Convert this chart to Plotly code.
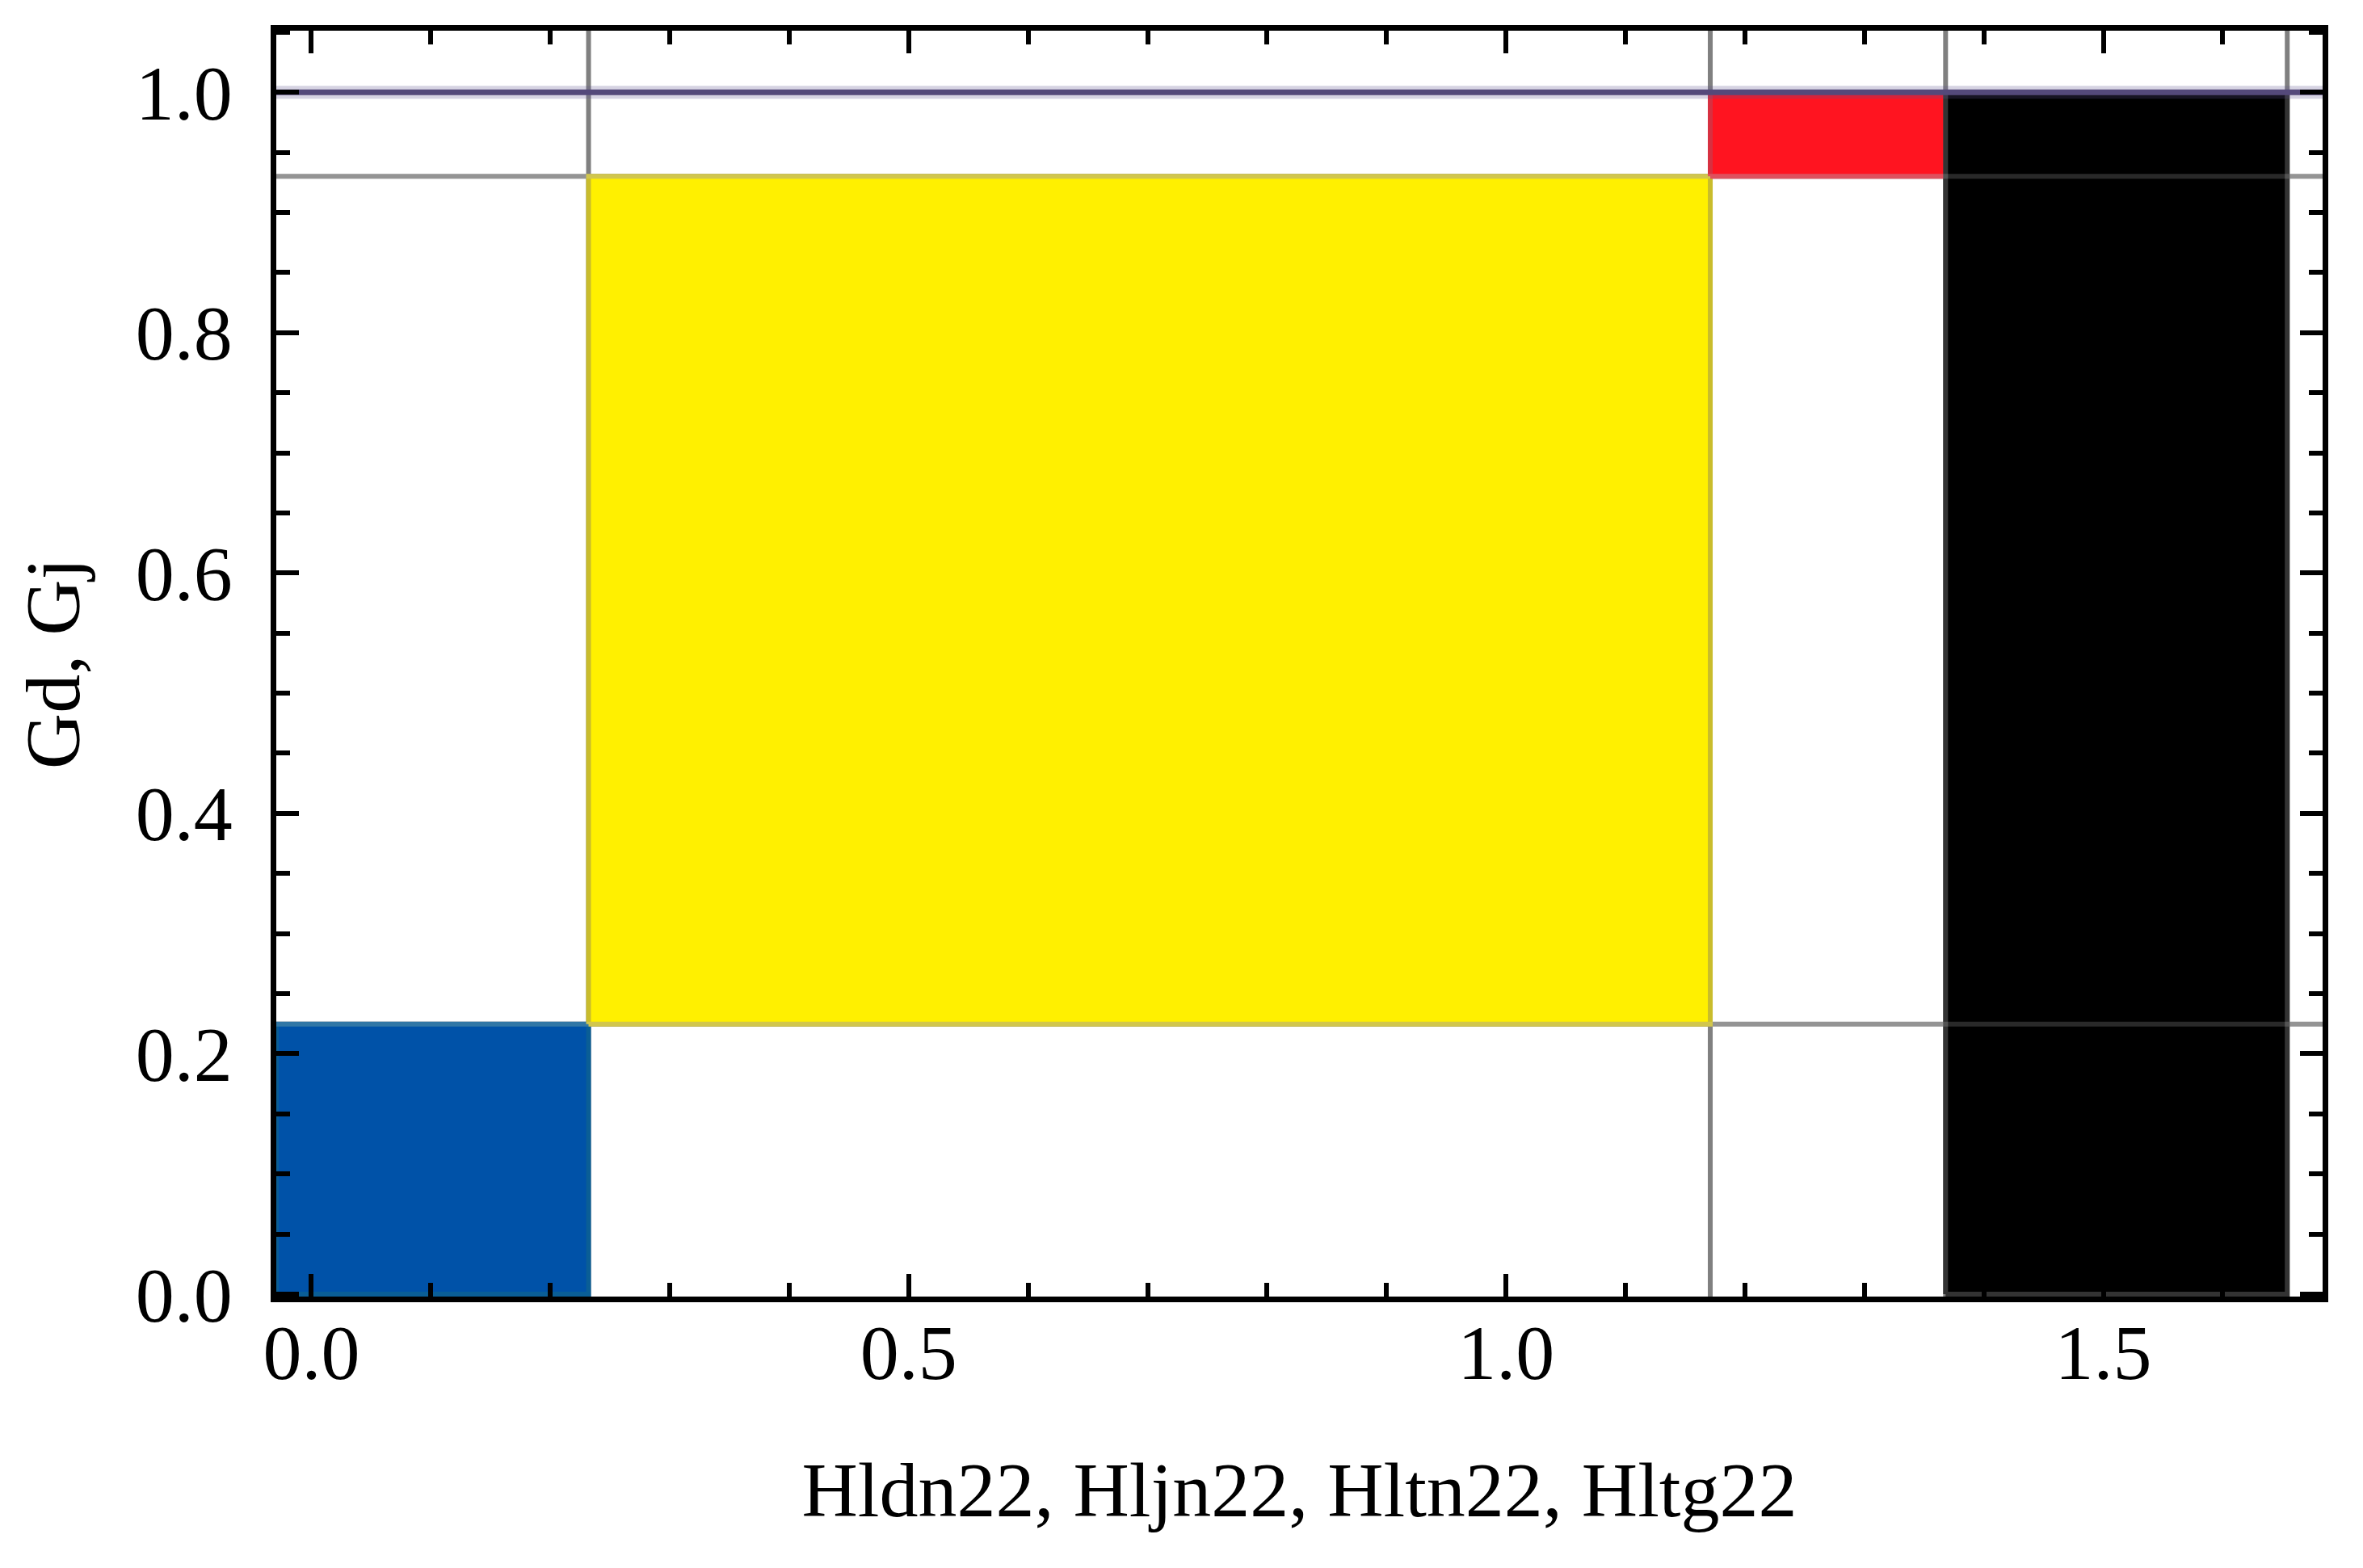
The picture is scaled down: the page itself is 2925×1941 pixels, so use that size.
import plotly.graph_objects as go

# ---- data ----
x_range = [-0.0294, 1.6836]
y_range = [-0.0020, 1.0512]

region_names = ["blue", "yellow", "red", "black"]
region_x0 = [-0.0294, 0.232, 1.171, 1.368]
region_x1 = [0.232, 1.171, 1.368, 1.654]
region_y0 = [0.0, 0.2247, 0.930, 0.0]
region_y1 = [0.2247, 0.930, 1.0, 1.0]
region_fill = ["#0052A8", "#FFF000", "#FF1420", "#000000"]
region_edge = ["#0A5E96", "#C9BC2C", "#D83040", "#333333"]

v_lines = [0.232, 1.171, 1.368, 1.654]
h_lines = [0.2247, 0.930]
top_line = 1.0

x_ticks = [0.0, 0.5, 1.0, 1.5]
y_ticks = [0.0, 0.2, 0.4, 0.6, 0.8, 1.0]
x_title = "Hldn22, Hljn22, Hltn22, Hltg22"
y_title = "Gd, Gj"

LW = 6

fig = go.Figure()

# gray boundary lines (below regions)
for xv in v_lines:
    fig.add_trace(go.Scatter(x=[xv, xv], y=y_range, mode="lines",
                             line=dict(color="#808080", width=LW),
                             hoverinfo="skip", showlegend=False))
for yv in h_lines:
    fig.add_trace(go.Scatter(x=x_range, y=[yv, yv], mode="lines",
                             line=dict(color="#808080", width=LW),
                             hoverinfo="skip", showlegend=False))

# filled regions
for n, x0, x1, y0, y1, fc, ec in zip(region_names, region_x0, region_x1,
                                     region_y0, region_y1, region_fill, region_edge):
    fig.add_trace(go.Scatter(x=[x0, x1, x1, x0, x0], y=[y0, y0, y1, y1, y0],
                             mode="lines", fill="toself", fillcolor=fc,
                             line=dict(color=ec, width=LW), name=n,
                             hoverinfo="skip", showlegend=False))

# faint lines showing through dark region
for yv in h_lines:
    fig.add_trace(go.Scatter(x=x_range, y=[yv, yv], mode="lines",
                             line=dict(color="rgba(255,255,255,0.16)", width=LW),
                             hoverinfo="skip", showlegend=False))

# top line at 1.0
fig.add_trace(go.Scatter(x=x_range, y=[top_line, top_line], mode="lines",
                         line=dict(color="rgba(90,80,140,0.25)", width=16),
                         hoverinfo="skip", showlegend=False))
fig.add_trace(go.Scatter(x=x_range, y=[top_line, top_line], mode="lines",
                         line=dict(color="#54497A", width=7),
                         hoverinfo="skip", showlegend=False))

font_family = "Liberation Serif"
axis_common = dict(
    showgrid=False, zeroline=False,
    showline=True, linecolor="black", linewidth=7, mirror="ticks",
    ticks="inside", ticklen=28, tickwidth=6, tickcolor="black",
    tickfont=dict(family=font_family, size=96, color="black"),
    tickformat=".1f",
)

fig.update_xaxes(range=x_range, tickvals=x_ticks, ticklabelstandoff=-20,
                 minor=dict(dtick=0.1, tick0=0, ticks="inside", ticklen=17,
                            tickwidth=6, tickcolor="black"),
                 title=dict(text=x_title, font=dict(family=font_family, size=96, color="black"),
                            standoff=85),
                 **axis_common)
fig.update_yaxes(range=y_range, tickvals=y_ticks, ticklabelstandoff=28,
                 minor=dict(dtick=0.05, tick0=0, ticks="inside", ticklen=17,
                            tickwidth=6, tickcolor="black"),
                 title=dict(text=y_title, font=dict(family=font_family, size=96, color="black"),
                            standoff=40),
                 **axis_common)

fig.update_layout(
    width=2925, height=1941,
    margin=dict(l=334, r=58, t=30, b=344),
    plot_bgcolor="white", paper_bgcolor="white",
    showlegend=False,
)

fig.write_html("out.html")
